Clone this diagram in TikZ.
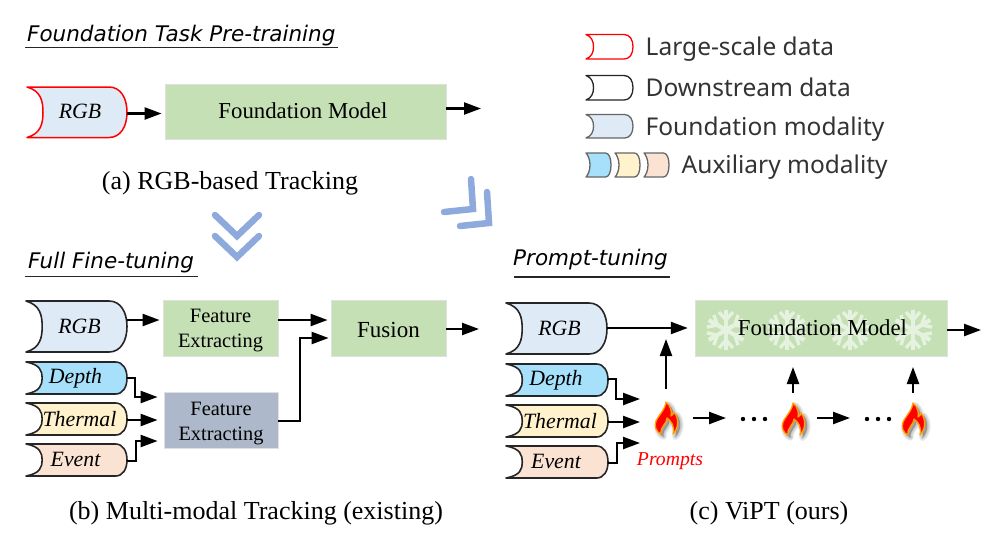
\documentclass[tikz,border=0pt]{standalone}
\usepackage{fontspec}
\setmainfont{Liberation Serif}
\newfontfamily\headfont{DejaVu Sans}
\newfontfamily\legfont{Noto Sans}
\usetikzlibrary{arrows.meta}
\definecolor{dbluefill}{HTML}{DEEAF6}
\definecolor{dcyan}{HTML}{A6E0FA}
\definecolor{dyellow}{HTML}{FFF2CC}
\definecolor{dpeach}{HTML}{FBE3D4}
\definecolor{boxgreen}{HTML}{C5E0B4}
\definecolor{boxgray}{HTML}{ADB9CA}
\definecolor{chev}{HTML}{8EA9DB}
\definecolor{flake}{HTML}{E6F2E0}
\definecolor{legtext}{HTML}{333333}
\newcommand{\fsz}[1]{\fontsize{#1}{#1}\selectfont}
\newcommand{\flamepath}{(-5,16) .. controls (-10,14) and (-12,8) .. (-10,3)
  .. controls (-8,-2) and (-1,-8) .. (0,-16)
  .. controls (5,-12) and (6,-6) .. (5,-2)
  .. controls (7,-3) and (8,-5) .. (8,-6)
  .. controls (13,0) and (13,10) .. (7,16)
  .. controls (9,8) and (5,3) .. (1,0)
  .. controls (1,6) and (-6,8) .. (-5,16) -- cycle}
\tikzset{
  x=1pt,y=-1pt,
  arr/.style={draw=black,line width=2.3pt,-{Triangle[length=17pt,width=12pt]}},
  greenbox/.style={draw=black!12,line width=0.8pt,fill=boxgreen,inner sep=0pt,align=center,font=\fsz{22.8}},
  graybox/.style={greenbox,fill=boxgray},
  chevron/.style={draw=chev,line width=6.5pt,line cap=round,line join=miter},
  heading/.style={anchor=base west,inner sep=0pt,font=\headfont\itshape\fsz{21.5}},
  hrule/.style={draw=black!85,line width=1.3pt},
  caption/.style={inner sep=0pt,font=\fsz{26}},
  legtxt/.style={anchor=base west,inner sep=0pt,text=legtext,font=\legfont\fsz{24.5}},
  snowa/.style={draw=flake,line width=4.2pt},
  snowb/.style={draw=flake,line width=3.4pt},
}
% name, x0, y0, x1, y1, fill, draw, line width, text
\newcommand{\datashape}[9]{%
  \pgfmathsetmacro{\ym}{(#3+#5)/2}%
  \pgfmathsetmacro{\hh}{#5-#3}%
  \pgfmathsetmacro{\ww}{#4-#2}%
  \pgfmathsetmacro{\rr}{min(0.36*\hh,min(18,0.22*\ww))}%
  \pgfmathsetmacro{\cc}{#2+0.16*\ww}%
  \pgfmathsetmacro{\xc}{(#2+#4)/2}%
  \draw[fill=#6,draw=#7,line width=#8,line join=round]
    (#2,#3) -- (#4-\rr,#3)
    .. controls (#4-\rr*0.35,#3) and (#4,#3+\hh*0.22) .. (#4,\ym)
    .. controls (#4,#5-\hh*0.22) and (#4-\rr*0.35,#5) .. (#4-\rr,#5)
    -- (#2,#5)
    .. controls (\cc-2,#5-\hh*0.08) and (\cc,#5-\hh*0.28) .. (\cc,\ym)
    .. controls (\cc,#3+\hh*0.28) and (\cc-2,#3+\hh*0.08) .. (#2,#3) -- cycle;
  \node[inner sep=0pt,minimum width=\ww pt,minimum height=\hh pt,font=\itshape\fsz{21.8}] (#1) at (\xc,\ym) {\hspace*{6pt}#9};%
}
\newcommand{\flameat}[3]{% name, x, y (centre)
  \coordinate (#1) at (#2,#3);
  \begin{scope}[shift={(#2,#3)}]
    \foreach \lw in {7,5,3,1}{
      \draw[black,opacity=0.07,line width=\lw pt,line join=round,fill=black,fill opacity=0.07,shift={(2.5,2.5)}] \flamepath;
    }
    \draw[fill=red,draw=orange!75!yellow,line width=1.3pt,line join=round] \flamepath;
  \end{scope}
}
\newcommand{\snowat}[2]{%
  \begin{scope}[shift={(#1,#2)}]
    \foreach \a in {30,90,150,210,270,330}{
      \begin{scope}[rotate=\a]
        \draw[snowa] (0,0) -- (20,0);
        \draw[snowb] (10,0) -- (18,7);
        \draw[snowb] (10,0) -- (18,-7);
      \end{scope}
    }
  \end{scope}
}
\begin{document}
\begin{tikzpicture}
\useasboundingbox (0,0) rectangle (1001,542);

% --- headings
\node[heading] (h1) at (27,41) {Foundation Task Pre-training};
\draw[hrule] (25,47.5) coordinate (h1a) -- (338,47.5) coordinate (h1b);
\node[heading] (h2) at (28,268) {Full Fine-tuning};
\draw[hrule] (25,276.5) coordinate (h2a) -- (198,276.5) coordinate (h2b);
\node[heading] (h3) at (513,265) {Prompt-tuning};
\draw[hrule] (514,277) coordinate (h3a) -- (670,277) coordinate (h3b);

% --- panel (a)
\datashape{argb}{27}{87}{127}{137.5}{dbluefill}{red}{1.5pt}{\raisebox{2pt}{RGB}}
\node[greenbox,minimum width=281pt,minimum height=55pt] (afm) at (305.5,111.5) {\hspace*{-5pt}\raisebox{2pt}{Foundation Model}};
\coordinate (ay) at (0,113.5);
\coordinate (aout) at (481,108.5);
\draw[arr] (argb.east |- ay) -- ([xshift=-3pt]afm.west |- ay);
\draw[arr] (afm.east |- aout) -- (aout);
\node[caption] (capa) at (230,183.5) {(a) RGB-based Tracking};

% --- chevrons
\draw[chevron] (215,215) -- (237,236) -- (259,215);
\draw[chevron] (215,236) -- (237,257) -- (259,236);
\draw[chevron] (471,179) -- (473,209) -- (444,212);
\draw[chevron] (487,192) -- (489,223) -- (460,226);

% --- legend
\datashape{l1}{586}{34.5}{633}{59}{white}{red}{1.3pt}{}
\node[legtxt] (lt1) at (645.5,55) {Large-scale data};
\datashape{l2}{586}{75.5}{633}{100}{white}{black!85}{1.3pt}{}
\node[legtxt] (lt2) at (645.5,96) {Downstream data};
\datashape{l3}{586}{114.5}{633}{138}{dbluefill}{black!60}{1.3pt}{}
\node[legtxt] (lt3) at (645.5,135) {Foundation modality};
\datashape{l4}{586}{153}{611}{177}{dcyan}{black!60}{1.3pt}{}
\datashape{l5}{615}{153}{640}{177}{dyellow}{black!60}{1.3pt}{}
\datashape{l6}{644}{153}{669}{177}{dpeach}{black!60}{1.3pt}{}
\node[legtxt] (lt4) at (681.5,173) {Auxiliary modality};

% --- panel (b)
\datashape{brgb}{26}{301}{127}{352}{dbluefill}{black!85}{1.6pt}{RGB}
\datashape{bd}{26}{362}{127}{394}{dcyan}{black!85}{1.6pt}{\hspace*{-8pt}Depth}
\datashape{bt}{26}{403}{127}{435}{dyellow}{black!85}{1.6pt}{Thermal}
\datashape{be}{26}{444}{127}{476}{dpeach}{black!85}{1.6pt}{\hspace*{-8pt}\raisebox{1pt}{Event}}
\node[greenbox,minimum width=115pt,minimum height=56pt,font=\fsz{20.4}] (bf1) at (220.5,328) {\rule{0pt}{18pt}Feature\\[4pt]Extracting};
\node[graybox,minimum width=114pt,minimum height=56pt,font=\fsz{20.4}] (bf2) at (221,420) {\rule{0pt}{20pt}Feature\\[4pt]Extracting};
\node[greenbox,minimum width=115pt,minimum height=56pt,font=\fsz{23}] (bfu) at (388.5,328) {\rule{0pt}{19pt}Fusion};
\coordinate (by1) at (0,320);
\coordinate (by2) at (0,338);
\coordinate (by3) at (0,397);
\coordinate (by4) at (0,441);
\coordinate (bout) at (479,329);
\draw[arr] (brgb.east |- by1) -- ([xshift=-3pt]bf1.west |- by1);
\draw[arr] (bf1.east |- by1) -- ([xshift=-3pt]bfu.west |- by1);
\draw[arr] (bf2.east |- 0,421) -- (300,421) -- (300,338) -- ([xshift=-2pt]bfu.west |- by2);
\draw[arr] (bd.east) -- (135,378) -- (135,397) -- ([xshift=-6pt]bf2.west |- by3);
\draw[arr] (bt.east |- 0,420) -- ([xshift=-6pt]bf2.west |- 0,420);
\draw[arr] (be.east |- 0,461) -- (136,461) -- (136,441) -- ([xshift=-6pt]bf2.west |- by4);
\draw[arr] (bfu.east |- bout) -- (bout);
\node[caption] (capb) at (256,513) {(b) Multi-modal Tracking (existing)};

% --- panel (c)
\datashape{crgb}{506}{303}{607}{354}{dbluefill}{black!85}{1.6pt}{RGB}
\datashape{cd}{506}{364}{608}{396}{dcyan}{black!85}{1.6pt}{\hspace*{-8pt}Depth}
\datashape{ct}{506}{405}{608}{437}{dyellow}{black!85}{1.6pt}{Thermal}
\datashape{ce}{506}{446}{608}{478}{dpeach}{black!85}{1.6pt}{\hspace*{-8pt}\raisebox{1pt}{Event}}
\fill[boxgreen,draw=black!12,line width=0.8pt] (695,300) rectangle (947,356);
\snowat{726}{330}
\snowat{787}{330}
\snowat{850}{330}
\snowat{913}{330}
\node[inner sep=0pt,minimum width=252pt,minimum height=56pt,font=\fsz{22.8}] (cfm) at (821,328) {\hspace*{3pt}Foundation Model};
\flameat{f1}{666}{418}
\flameat{f2}{793}{419}
\flameat{f3}{913}{419}
\coordinate (c1) at (640,399);
\coordinate (c2) at (640,422);
\coordinate (c3) at (640,443);
\coordinate (cout) at (981,330);
\coordinate (f1up) at (666,389);
\coordinate (f2up) at (793,393);
\coordinate (f3up) at (913,393);
\coordinate (cup) at (666,339);
\coordinate (cu2) at (793,367);
\coordinate (cu3) at (913,367);
\coordinate (d1s) at (693,418);
\coordinate (d1e) at (726,418);
\coordinate (d2s) at (817,418);
\coordinate (d2e) at (850,418);
\draw[arr] (crgb.east |- 0,328) -- ([xshift=-7pt]cfm.west |- 0,328);
\draw[arr] (f1up) -- (cup);
\draw[arr] (f2up) -- (cu2);
\draw[arr] (f3up) -- (cu3);
\draw[arr] (d1s) -- (d1e);
\draw[arr] (d2s) -- (d2e);
\draw[arr] (cd.east |- 0,379) -- (616,379) -- (616,399) -- (c1);
\draw[arr] (ct.east |- c2) -- (c2);
\draw[arr] (ce.east |- 0,463) -- (617,463) -- (617,443) -- (c3);
\draw[arr] (cfm.east |- cout) -- (cout);
\foreach \x in {743,754,765,867,878,889}{
  \fill[black] (\x,419) circle (2.2);
}
\node[inner sep=0pt,text=red,font=\itshape\fsz{19.7}] (prompts) at (670,461) {Prompts};
\node[caption] (capc) at (769,513) {(c) ViPT (ours)};
\end{tikzpicture}
\end{document}
